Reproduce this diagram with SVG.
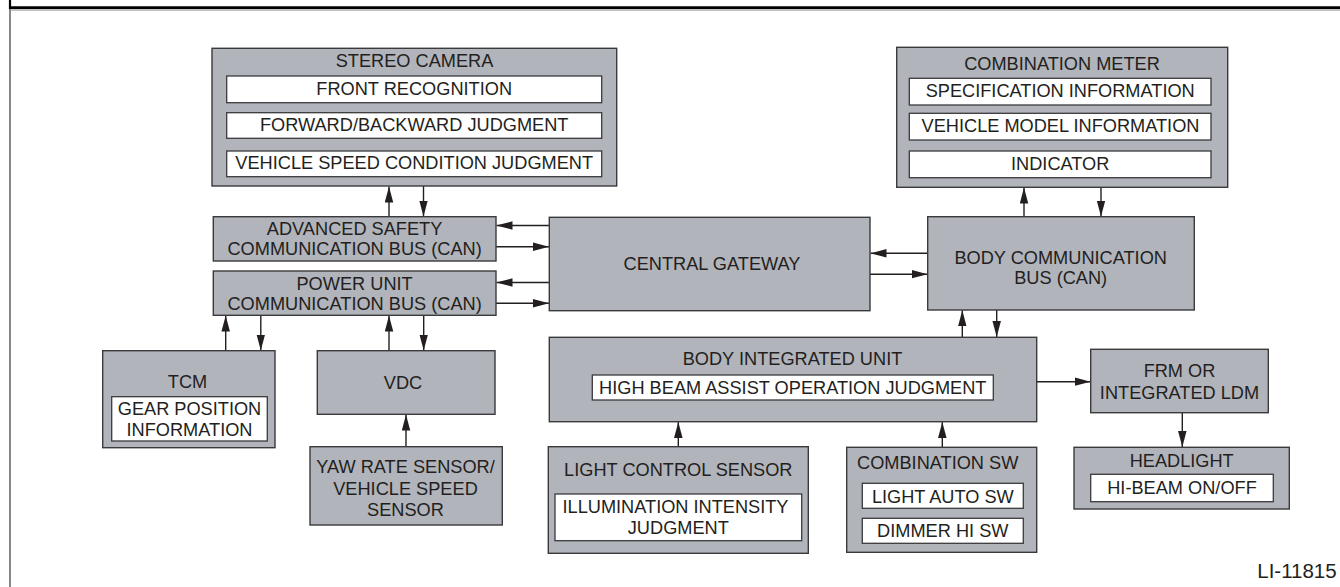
<svg xmlns="http://www.w3.org/2000/svg" width="1340" height="587" viewBox="0 0 1340 587">
<style>
.box{fill:#b1b4bb;stroke:#3a3a3c;stroke-width:1.4}
.in{fill:#ffffff;stroke:#3a3a3c;stroke-width:1.3}
.t{font-family:"Liberation Sans",Arial,sans-serif;font-size:18.2px;fill:#231f20;text-anchor:middle}
.c{fill:none;stroke:#231f20;stroke-width:1.4}
</style>
<defs>
<marker id="ah" markerUnits="userSpaceOnUse" markerWidth="16" markerHeight="9" refX="16" refY="4.25" orient="auto">
<path d="M0,0 L16,4.25 L0,8.5 z" fill="#231f20"/>
</marker>
</defs>
<rect width="1340" height="587" fill="#ffffff"/>
<g id="frame">
<line x1="10" y1="9" x2="10" y2="587" stroke="#6e6a6b" stroke-width="1.6"/>
<line x1="10" y1="10" x2="1340" y2="10" stroke="#8a8788" stroke-width="1.2"/>
<line x1="10" y1="0" x2="10" y2="9" stroke="#000" stroke-width="2.2"/>
<line x1="9" y1="7.6" x2="1340" y2="7.6" stroke="#000" stroke-width="2.6"/>
</g>
<g id="connectors">
<line class="c" x1="389" y1="216.7" x2="389" y2="186.5" marker-end="url(#ah)"/>
<line class="c" x1="423.5" y1="186" x2="423.5" y2="216.5" marker-end="url(#ah)"/>
<line class="c" x1="549.3" y1="225.5" x2="496.5" y2="225.5" marker-end="url(#ah)"/>
<line class="c" x1="496" y1="246.7" x2="549" y2="246.7" marker-end="url(#ah)"/>
<line class="c" x1="549.3" y1="282.5" x2="496.5" y2="282.5" marker-end="url(#ah)"/>
<line class="c" x1="496" y1="303.3" x2="549" y2="303.3" marker-end="url(#ah)"/>
<line class="c" x1="927.7" y1="253.3" x2="870.5" y2="253.3" marker-end="url(#ah)"/>
<line class="c" x1="870" y1="274.2" x2="927.5" y2="274.2" marker-end="url(#ah)"/>
<line class="c" x1="1024" y1="216.7" x2="1024" y2="187.6" marker-end="url(#ah)"/>
<line class="c" x1="1101" y1="187.3" x2="1101" y2="216.5" marker-end="url(#ah)"/>
<line class="c" x1="962.3" y1="337.3" x2="962.3" y2="310.3" marker-end="url(#ah)"/>
<line class="c" x1="996.7" y1="310" x2="996.7" y2="337" marker-end="url(#ah)"/>
<line class="c" x1="225.7" y1="350.7" x2="225.7" y2="315.6" marker-end="url(#ah)"/>
<line class="c" x1="260.8" y1="315.3" x2="260.8" y2="350.5" marker-end="url(#ah)"/>
<line class="c" x1="389" y1="350.7" x2="389" y2="315.6" marker-end="url(#ah)"/>
<line class="c" x1="423.7" y1="315.3" x2="423.7" y2="350.5" marker-end="url(#ah)"/>
<line class="c" x1="406" y1="446.7" x2="406" y2="414.6" marker-end="url(#ah)"/>
<line class="c" x1="678.3" y1="446.7" x2="678.3" y2="422" marker-end="url(#ah)"/>
<line class="c" x1="942.3" y1="447.3" x2="942.3" y2="422" marker-end="url(#ah)"/>
<line class="c" x1="1036.7" y1="381.7" x2="1090.5" y2="381.7" marker-end="url(#ah)"/>
<line class="c" x1="1182.3" y1="412.7" x2="1182.3" y2="447" marker-end="url(#ah)"/>
</g>
<g id="stereo-camera">
<rect class="box" x="212" y="48.3" width="404.7" height="137.7"/>
<text class="t" x="414.5" y="67.3">STEREO CAMERA</text>
<rect class="in" x="226.7" y="76" width="375" height="26.7"/>
<text class="t" x="414.2" y="95.3">FRONT RECOGNITION</text>
<rect class="in" x="226.7" y="112.7" width="375" height="25.6"/>
<text class="t" x="414.2" y="131">FORWARD/BACKWARD JUDGMENT</text>
<rect class="in" x="226.7" y="151" width="375" height="25.7"/>
<text class="t" x="414.2" y="169.3">VEHICLE SPEED CONDITION JUDGMENT</text>
</g>
<g id="advanced-safety-bus">
<rect class="box" x="213.3" y="216.7" width="282.7" height="44.3"/>
<text class="t" x="354.6" y="235.3">ADVANCED SAFETY</text>
<text class="t" x="354.6" y="255.3">COMMUNICATION BUS (CAN)</text>
</g>
<g id="power-unit-bus">
<rect class="box" x="213.3" y="271" width="282.7" height="44.3"/>
<text class="t" x="354.6" y="289.6">POWER UNIT</text>
<text class="t" x="354.6" y="309.6">COMMUNICATION BUS (CAN)</text>
</g>
<g id="central-gateway">
<rect class="box" x="549.3" y="217.3" width="320.7" height="93.4"/>
<text class="t" x="712" y="270.3">CENTRAL GATEWAY</text>
</g>
<g id="combination-meter">
<rect class="box" x="896.7" y="47.3" width="331" height="140"/>
<text class="t" x="1062" y="69.6">COMBINATION METER</text>
<rect class="in" x="909.3" y="78.3" width="301.7" height="26.7"/>
<text class="t" x="1060.2" y="97">SPECIFICATION INFORMATION</text>
<rect class="in" x="909.3" y="113.3" width="301.7" height="26.7"/>
<text class="t" x="1060.5" y="132">VEHICLE MODEL INFORMATION</text>
<rect class="in" x="909.3" y="151" width="301.7" height="26.7"/>
<text class="t" x="1060.2" y="170.3">INDICATOR</text>
</g>
<g id="body-communication-bus">
<rect class="box" x="927.7" y="216.7" width="266.6" height="93.3"/>
<text class="t" x="1060.7" y="264.3">BODY COMMUNICATION</text>
<text class="t" x="1060.7" y="283.6">BUS (CAN)</text>
</g>
<g id="body-integrated-unit">
<rect class="box" x="549.3" y="337.3" width="487.4" height="84.4"/>
<text class="t" x="792.5" y="365.3">BODY INTEGRATED UNIT</text>
<rect class="in" x="592.3" y="375" width="401" height="25"/>
<text class="t" x="792.8" y="394.3">HIGH BEAM ASSIST OPERATION JUDGMENT</text>
</g>
<g id="frm">
<rect class="box" x="1090.7" y="349.3" width="177.6" height="63.4"/>
<text class="t" x="1179.5" y="377">FRM OR</text>
<text class="t" x="1179.5" y="398.6">INTEGRATED LDM</text>
</g>
<g id="headlight">
<rect class="box" x="1074" y="447.3" width="215.3" height="61.7"/>
<text class="t" x="1181.7" y="467">HEADLIGHT</text>
<rect class="in" x="1090.7" y="474.3" width="182.6" height="27.4"/>
<text class="t" x="1182" y="493.6">HI-BEAM ON/OFF</text>
</g>
<g id="tcm">
<rect class="box" x="102.7" y="350.7" width="172.3" height="97"/>
<text class="t" x="187.5" y="387.6">TCM</text>
<rect class="in" x="111.7" y="396.7" width="155.6" height="44.3"/>
<text class="t" x="189.5" y="415.3">GEAR POSITION</text>
<text class="t" x="189.5" y="436.3">INFORMATION</text>
</g>
<g id="vdc">
<rect class="box" x="317.3" y="350.7" width="177.7" height="63.6"/>
<text class="t" x="403" y="388.6">VDC</text>
</g>
<g id="yaw-rate-sensor">
<rect class="box" x="310" y="446.7" width="192.3" height="78.3"/>
<text class="t" x="405.5" y="473">YAW RATE SENSOR/</text>
<text class="t" x="405.5" y="495.3">VEHICLE SPEED</text>
<text class="t" x="405.5" y="516">SENSOR</text>
</g>
<g id="light-control-sensor">
<rect class="box" x="548.3" y="446.7" width="260" height="106.6"/>
<text class="t" x="678.3" y="476">LIGHT CONTROL SENSOR</text>
<rect class="in" x="555" y="494" width="246.7" height="46.7"/>
<text class="t" x="675.5" y="513">ILLUMINATION INTENSITY</text>
<text class="t" x="678.3" y="533.6">JUDGMENT</text>
</g>
<g id="combination-sw">
<rect class="box" x="846.7" y="447.3" width="190" height="105"/>
<text class="t" x="937.7" y="468.6">COMBINATION SW</text>
<rect class="in" x="862.3" y="483.3" width="161" height="25"/>
<text class="t" x="942.8" y="502.6">LIGHT AUTO SW</text>
<rect class="in" x="862.3" y="518.3" width="161" height="25"/>
<text class="t" x="942.8" y="537">DIMMER HI SW</text>
</g>
<text class="t" x="1336.7" y="578.3" style="text-anchor:end;font-size:20.5px">LI-11815</text>
</svg>
